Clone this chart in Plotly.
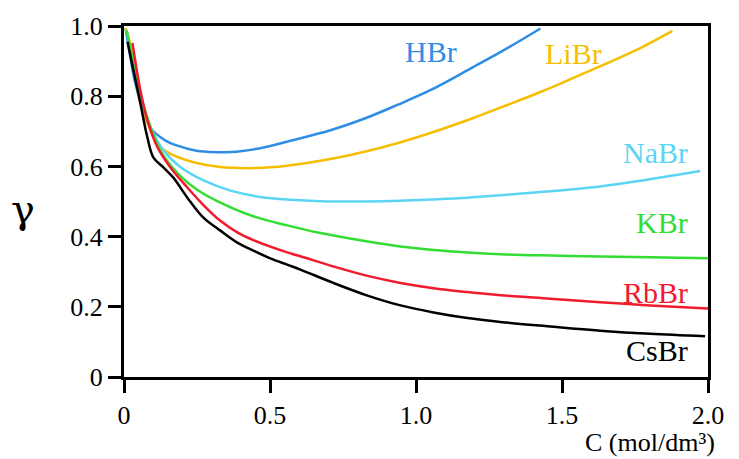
import plotly.graph_objects as go

# Mean activity coefficient of alkali bromides vs. concentration
c_hbr = [0.005, 0.02, 0.035, 0.056, 0.074, 0.091, 0.125, 0.159, 0.211, 0.262, 0.365, 0.467,
         0.570, 0.707, 0.820, 0.936, 1.049, 1.196, 1.313, 1.426]
g_hbr = [0.994, 0.92, 0.85, 0.785, 0.740, 0.709, 0.683, 0.666, 0.652, 0.643, 0.641, 0.652,
         0.673, 0.703, 0.735, 0.775, 0.817, 0.883, 0.937, 0.993]

c_libr = [0.005, 0.022, 0.056, 0.091, 0.125, 0.169, 0.238, 0.330, 0.423, 0.512, 0.604, 0.707,
          0.820, 0.936, 1.049, 1.196, 1.313, 1.426, 1.539, 1.655, 1.768, 1.878]
g_libr = [0.994, 0.946, 0.780, 0.703, 0.655, 0.632, 0.612, 0.598, 0.595, 0.598, 0.607, 0.621,
          0.641, 0.666, 0.695, 0.738, 0.775, 0.812, 0.852, 0.894, 0.937, 0.986]

c_nabr = [0.009, 0.056, 0.091, 0.135, 0.193, 0.272, 0.365, 0.467, 0.570, 0.673, 0.834, 0.947,
          1.060, 1.176, 1.289, 1.460, 1.631, 1.744, 1.973]
g_nabr = [0.988, 0.797, 0.712, 0.646, 0.598, 0.560, 0.531, 0.513, 0.505, 0.501, 0.500, 0.502,
          0.506, 0.511, 0.518, 0.529, 0.543, 0.556, 0.587]

c_kbr = [0.009, 0.056, 0.091, 0.125, 0.183, 0.252, 0.330, 0.443, 0.559, 0.673, 0.834, 0.947,
         1.060, 1.176, 1.289, 1.460, 1.631, 1.802, 2.0]
g_kbr = [0.988, 0.809, 0.712, 0.645, 0.581, 0.533, 0.497, 0.458, 0.432, 0.410, 0.386, 0.372,
         0.362, 0.355, 0.350, 0.346, 0.343, 0.341, 0.338]

c_rbbr = [0.029, 0.056, 0.080, 0.115, 0.159, 0.217, 0.272, 0.330, 0.388, 0.443, 0.559, 0.604,
          0.717, 0.834, 0.947, 1.060, 1.176, 1.289, 1.460, 1.631, 1.802, 2.0]
g_rbbr = [0.952, 0.817, 0.731, 0.654, 0.597, 0.540, 0.490, 0.445, 0.412, 0.390, 0.355, 0.344,
          0.315, 0.288, 0.268, 0.253, 0.242, 0.233, 0.223, 0.213, 0.204, 0.195]

c_csbr = [0.012, 0.056, 0.080, 0.101, 0.135, 0.169, 0.217, 0.272, 0.330, 0.388, 0.443, 0.501,
          0.559, 0.604, 0.717, 0.834, 0.947, 1.060, 1.176, 1.289, 1.460, 1.631, 1.802, 1.990]
g_csbr = [0.955, 0.780, 0.683, 0.625, 0.597, 0.568, 0.511, 0.454, 0.417, 0.383, 0.360, 0.338,
          0.320, 0.306, 0.268, 0.232, 0.204, 0.184, 0.168, 0.157, 0.144, 0.132, 0.123, 0.116]

x_ticks = [0, 0.5, 1.0, 1.5, 2.0]
x_labels = ["0", "0.5", "1.0", "1.5", "2.0"]
y_ticks = [0, 0.2, 0.4, 0.6, 0.8, 1.0]
y_labels = ["0", "0.2", "0.4", "0.6", "0.8", "1.0"]

series = [
    ("HBr", c_hbr, g_hbr, "#2f8de4"),
    ("LiBr", c_libr, g_libr, "#f5bf00"),
    ("NaBr", c_nabr, g_nabr, "#5cd5f5"),
    ("KBr", c_kbr, g_kbr, "#33dd33"),
    ("RbBr", c_rbbr, g_rbbr, "#f21a2e"),
    ("CsBr", c_csbr, g_csbr, "#000000"),
]

# label anchor points (data coords) for each curve name
label_pos = {
    "HBr": (1.053, 0.926, "center"),
    "LiBr": (1.539, 0.923, "center"),
    "NaBr": (1.939, 0.640, "right"),
    "KBr": (1.939, 0.441, "right"),
    "RbBr": (1.939, 0.241, "right"),
    "CsBr": (1.939, 0.076, "right"),
}

LABEL_FONT = "'Liberation Serif'"
TITLE_FONT = "Times New Roman"
SYMBOL_FONT = "DejaVu Serif"

fig = go.Figure()
for name, cx, gy, col in series:
    fig.add_trace(go.Scatter(x=cx, y=gy, mode="lines", name=name,
                             line=dict(color=col, width=2.5, shape="spline", smoothing=1.0),
                             showlegend=False, cliponaxis=True))
    lx, ly, anchor = label_pos[name]
    fig.add_annotation(x=lx, y=ly, xref="x", yref="y", text=name, showarrow=False,
                       xanchor=anchor, yanchor="middle",
                       font=dict(family=LABEL_FONT, size=30, color=col))

axis_common = dict(showline=True, linecolor="black", linewidth=3, mirror=True,
                   ticks="outside", ticklen=13, tickwidth=3, tickcolor="black",
                   showgrid=False, zeroline=False, automargin=False,
                   tickfont=dict(family=LABEL_FONT, size=26, color="black"))

fig.update_xaxes(range=[0, 2.0], tickvals=x_ticks, ticktext=x_labels, **axis_common)
fig.update_yaxes(range=[0, 1.0], tickvals=y_ticks, ticktext=y_labels, **axis_common)

fig.add_annotation(x=1.015, y=-0.235, xref="paper", yref="paper", text="C (mol/dm³)",
                   showarrow=False, xanchor="right", yanchor="bottom",
                   font=dict(family=TITLE_FONT, size=26, color="black"))
fig.add_annotation(x=-0.173, y=0.48, xref="paper", yref="paper", text="γ",
                   showarrow=False, xanchor="center", yanchor="middle",
                   font=dict(family=SYMBOL_FONT, size=40, color="black"))

fig.update_layout(width=739, height=459, margin=dict(l=124, r=31, t=26, b=82),
                  paper_bgcolor="white", plot_bgcolor="white")

fig.write_html("out.html")
